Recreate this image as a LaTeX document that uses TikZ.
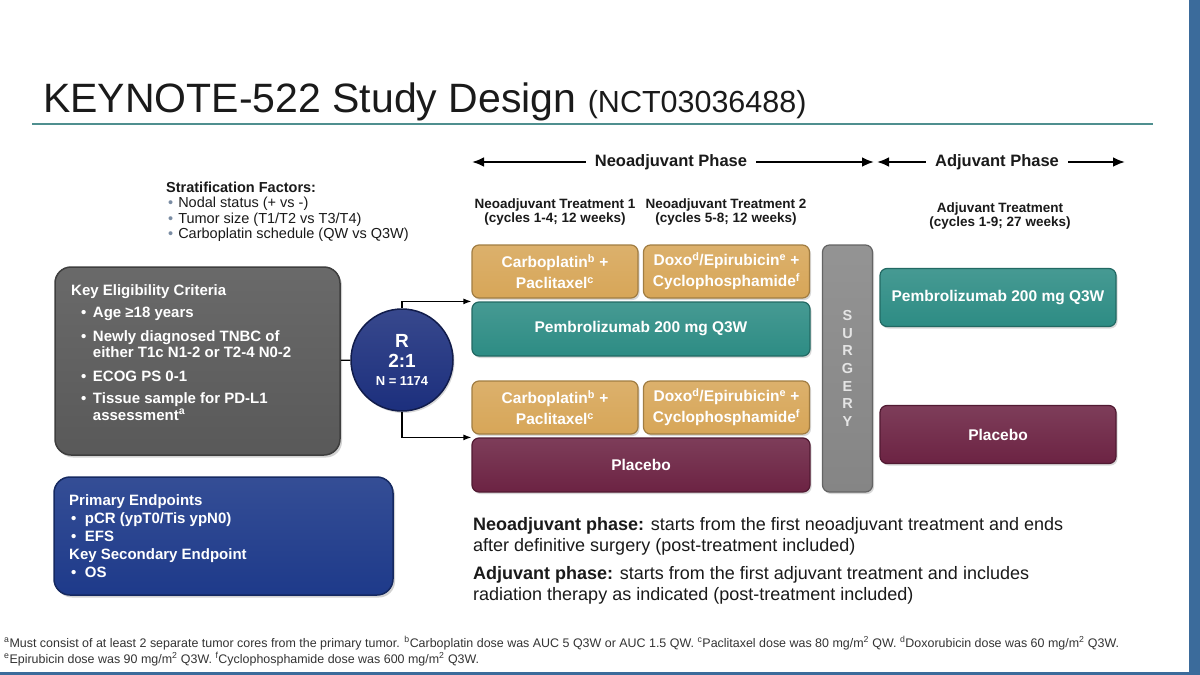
\documentclass[tikz,border=0pt]{standalone}
\usepackage{fontspec}
\setmainfont{Liberation Sans}
\usetikzlibrary{arrows.meta,shadows}

\definecolor{goldArm}  {HTML}{D7A658}
\definecolor{tealArm}  {HTML}{2D8C84}
\definecolor{maroonArm}{HTML}{6C2343}
\definecolor{surgGray} {HTML}{858585}
\definecolor{critGray} {HTML}{595959}
\definecolor{endNavy}  {HTML}{1E3A8A}
\definecolor{randNavy} {HTML}{1C2F7D}
\definecolor{ruleTeal} {HTML}{4F8F8F}
\definecolor{edgeBlue} {HTML}{3B6B9B}
\definecolor{dotGray}  {HTML}{7A8CA3}
\definecolor{inkBlack} {HTML}{1A1A1A}

\newcommand{\setfs}[2]{\fontsize{#1}{#2}\selectfont}

\tikzset{
  font=\setfs{15}{16.5},
  conn/.style={-{Latex[length=8pt,width=6pt]},draw=black,line width=1.2pt},
  phasearrow/.style={-{Latex[length=12pt,width=10pt]},draw=black,line width=2.8pt},
  arm/.style={rectangle,rounded corners=7pt,draw=#1!75!black,line width=1.2pt,
    top color=#1!88!white,bottom color=#1,text=white,align=center,
    inner sep=0pt,font=\bfseries\setfs{15.5}{21},
    drop shadow={opacity=.3,shadow xshift=1.5pt,shadow yshift=-2pt}},
  chemo/.style={arm=goldArm,minimum width=166pt,minimum height=53pt},
  armbar/.style={arm=#1,minimum width=338pt,minimum height=54pt},
  adjbar/.style={arm=#1,minimum width=236pt,minimum height=58pt},
  panel/.style={rectangle,rounded corners=16pt,draw=#1!70!black,line width=1.5pt,
    top color=#1!90!white,bottom color=#1,
    drop shadow={opacity=.35,shadow xshift=2pt,shadow yshift=-2.5pt}},
  paneltext/.style={anchor=base west,inner sep=0pt,text=white,font=\bfseries\setfs{15}{16.5}},
  header/.style={anchor=base,inner sep=0pt,text=inkBlack,font=\bfseries\setfs{13.5}{14.5}},
  phaselabel/.style={inner xsep=9pt,inner ysep=0pt,text=inkBlack,font=\bfseries\setfs{16.5}{18}},
}

\begin{document}
\begin{tikzpicture}[x=1pt,y=-1pt]
\useasboundingbox (0,0) rectangle (1200,675);
\fill[white] (0,0) rectangle (1200,675);
\fill[edgeBlue] (1189,0) rectangle (1200,675);
\fill[edgeBlue] (0,672) rectangle (1200,675);

% title
\node[anchor=base west,inner sep=0pt,text=inkBlack,font=\setfs{41}{44}] (title) at (43,112)
  {KEYNOTE-522 Study Design {\setfs{30.5}{34}(NCT03036488)}};
\draw[ruleTeal,line width=2.5pt] (32,124) -- (1153,124);

% phases
\node[phaselabel] (neoPhase) at (671,162) {Neoadjuvant Phase};
\coordinate (neoStart) at (472,162);
\coordinate (neoEnd)   at (874,162);
\draw[phasearrow] (neoPhase.west) -- (neoStart);
\draw[phasearrow] (neoPhase.east) -- (neoEnd);

\node[phaselabel] (adjPhase) at (997,162) {Adjuvant Phase};
\coordinate (adjStart) at (877,162);
\coordinate (adjEnd)   at (1125,162);
\draw[phasearrow] (adjPhase.west) -- (adjStart);
\draw[phasearrow] (adjPhase.east) -- (adjEnd);

\node[header] (neoHead1) at (555,208)
  {\begin{tabular}[t]{@{}c@{}}Neoadjuvant Treatment 1\\(cycles 1-4; 12 weeks)\end{tabular}};
\node[header] (neoHead2) at (726,208)
  {\begin{tabular}[t]{@{}c@{}}Neoadjuvant Treatment 2\\(cycles 5-8; 12 weeks)\end{tabular}};
\node[header] (adjHead) at (1000,212)
  {\begin{tabular}[t]{@{}c@{}}Adjuvant Treatment\\(cycles 1-9; 27 weeks)\end{tabular}};

% stratification
\node[anchor=base west,inner sep=0pt,text=inkBlack,font=\setfs{14.5}{15.5}] (strat) at (166,192)
  {\begin{tabular}[t]{@{}l@{\hspace{5pt}}l@{}}
    \multicolumn{2}{@{}l@{}}{\textbf{Stratification Factors:}}\\
    \hspace*{2pt}{\color{dotGray}\textbullet} & Nodal status (+ vs -)\\
    \hspace*{2pt}{\color{dotGray}\textbullet} & Tumor size (T1/T2 vs T3/T4)\\
    \hspace*{2pt}{\color{dotGray}\textbullet} & Carboplatin schedule (QW vs Q3W)
  \end{tabular}};

% eligibility
\node[panel=critGray,minimum width=285pt,minimum height=188pt] (crit) at (197.5,361) {};
\node[paneltext] (critList) at (71,295)
  {\begin{tabular}[t]{@{}l@{\hspace{6.5pt}}l@{}}
    \multicolumn{2}{@{}l@{}}{Key Eligibility Criteria}\\[6pt]
    \hspace*{10pt}\textbullet & Age ≥18 years\\[7pt]
    \hspace*{10pt}\textbullet & Newly diagnosed TNBC of\\
                              & either T1c N1-2 or T2-4 N0-2\\[7pt]
    \hspace*{10pt}\textbullet & ECOG PS 0-1\\[6pt]
    \hspace*{10pt}\textbullet & Tissue sample for PD-L1\\
                              & assessment\textsuperscript{a}
  \end{tabular}};

% randomisation
\node[circle,minimum size=102pt,draw=randNavy!60!black,line width=1.5pt,
  top color=randNavy!88!white,bottom color=randNavy,text=white,align=center,
  inner sep=0pt,font=\bfseries\setfs{19}{20},
  drop shadow={opacity=.3,shadow xshift=1.5pt,shadow yshift=-2pt}] (rand) at (402,360)
  {R\\2:1\\[-2pt]{\setfs{13}{15}N = 1174}};

\draw[line width=1.2pt] (crit) -- (rand);

% neoadjuvant arms
\node[chemo] (carboA) at (555,271.5) {Carboplatin\textsuperscript{b} +\\Paclitaxel\textsuperscript{c}};
\node[chemo] (doxoA) at (726.5,271.5) {Doxo\textsuperscript{d}/Epirubicin\textsuperscript{e} +\\Cyclophosphamide\textsuperscript{f}};
\node[armbar=tealArm] (pembroA) at (641,329) {Pembrolizumab 200 mg Q3W};

\node[chemo] (carboB) at (555,407.5) {Carboplatin\textsuperscript{b} +\\Paclitaxel\textsuperscript{c}};
\node[chemo] (doxoB) at (726.5,407.5) {Doxo\textsuperscript{d}/Epirubicin\textsuperscript{e} +\\Cyclophosphamide\textsuperscript{f}};
\node[armbar=maroonArm] (placA) at (641,465) {Placebo};

\draw[conn] (rand.north) |- (pembroA.north west);
\draw[conn] (rand.south) |- (placA.north west);

\node[arm=surgGray,minimum width=50pt,minimum height=247pt,
  font=\bfseries\setfs{14.5}{17.7},text=white!90!black] (surg) at (847.5,368.5)
  {S\\U\\R\\G\\E\\R\\Y};

% adjuvant arms
\node[adjbar=tealArm] (pembroB) at (998,297.5) {Pembrolizumab 200 mg Q3W};
\node[adjbar=maroonArm] (placB) at (998,434.5) {Placebo};

% endpoints
\node[panel=endNavy,minimum width=339pt,minimum height=118pt] (endp) at (223.5,536) {};
\node[paneltext,font=\bfseries\setfs{15}{18}] (endList) at (69,505)
  {\begin{tabular}[t]{@{}l@{\hspace{8.5pt}}l@{}}
    \multicolumn{2}{@{}l@{}}{Primary Endpoints}\\
    \hspace*{2pt}\textbullet & pCR (ypT0/Tis ypN0)\\
    \hspace*{2pt}\textbullet & EFS\\
    \multicolumn{2}{@{}l@{}}{Key Secondary Endpoint}\\
    \hspace*{2pt}\textbullet & OS
  \end{tabular}};

% phase definitions
\node[anchor=base west,inner sep=0pt,text=inkBlack,font=\setfs{18}{21}] (phaseNotes) at (473,530)
  {\begin{tabular}[t]{@{}l@{}}
    \textbf{Neoadjuvant phase:} starts from the first neoadjuvant treatment and ends\\
    after definitive surgery (post-treatment included)\\[7pt]
    \textbf{Adjuvant phase:} starts from the first adjuvant treatment and includes\\
    radiation therapy as indicated (post-treatment included)
  \end{tabular}};

% footnotes
\node[anchor=base west,inner sep=0pt,text=black!80,font=\setfs{12.45}{16}] (footNotes) at (4,647)
  {\begin{tabular}[t]{@{}l@{}}
    \textsuperscript{a}Must consist of at least 2 separate tumor cores from the primary tumor. \textsuperscript{b}Carboplatin dose was AUC 5 Q3W or AUC 1.5 QW. \textsuperscript{c}Paclitaxel dose was 80 mg/m\textsuperscript{2} QW. \textsuperscript{d}Doxorubicin dose was 60 mg/m\textsuperscript{2} Q3W.\\
    \textsuperscript{e}Epirubicin dose was 90 mg/m\textsuperscript{2} Q3W. \textsuperscript{f}Cyclophosphamide dose was 600 mg/m\textsuperscript{2} Q3W.
  \end{tabular}};

\end{tikzpicture}
\end{document}
